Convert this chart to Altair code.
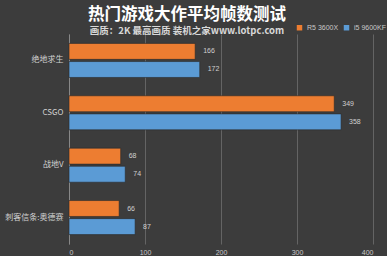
import altair as alt
import pandas as pd

games = ["绝地求生", "CSGO", "战地V", "刺客信条:奥德赛"]
cpus = ["R5 3600X", "i5 9600KF"]
r5_fps = [166, 349, 68, 66]
i5_fps = [172, 358, 74, 87]
colors = ["#ED7D31", "#5B9BD5"]
ticks = [0, 50, 100, 150, 200, 250, 300, 350, 400]

rows = []
for g, a, b in zip(games, r5_fps, i5_fps):
    rows.append({"game": g, "cpu": cpus[0], "fps": a})
    rows.append({"game": g, "cpu": cpus[1], "fps": b})
df = pd.DataFrame(rows)

font = "Noto Sans CJK SC"

base = alt.Chart(df).encode(
    y=alt.Y("game:N", sort=games, title=None,
            scale=alt.Scale(paddingInner=0.35, paddingOuter=0.18),
            axis=alt.Axis(labelColor="#d0d0d0", labelFontSize=8, labelFont=font,
                          ticks=False, domainColor="#888888", labelPadding=6)),
    yOffset=alt.YOffset("cpu:N", sort=cpus, scale=alt.Scale(paddingInner=0.12)),
)

bars = base.mark_bar(stroke="#2a2a2a", strokeWidth=0.6).encode(
    x=alt.X("fps:Q", title=None,
            scale=alt.Scale(domain=[0, 400], nice=False),
            axis=alt.Axis(values=ticks, labelOverlap=False,
                          labelColor="#c8c8c8", labelFontSize=7, domain=False,
                          ticks=False, gridColor="#646464", gridWidth=1,
                          labelPadding=4)),
    color=alt.Color("cpu:N", sort=cpus,
                    scale=alt.Scale(domain=cpus, range=colors),
                    legend=alt.Legend(title=None, orient="none", direction="horizontal",
                                      legendX=227, legendY=-10, symbolType="square",
                                      symbolSize=30, symbolStrokeWidth=0,
                                      labelColor="#c8c8c8", labelFontSize=7,
                                      columnPadding=4, symbolOffset=0)),
)

labels = base.mark_text(align="left", dx=8, fontSize=7, color="#d0d0d0").encode(
    x="fps:Q", text="fps:Q"
)

chart = (bars + labels).properties(
    width=304, height=210,
    background="#3c3c3c",
    padding={"left": 69, "top": 34, "right": 14, "bottom": 12},
    autosize=alt.AutoSizeParams(type="none"),
    title=alt.TitleParams(
        text="热门游戏大作平均帧数测试",
        subtitle="画质：2K 最高画质 装机之家www.lotpc.com",
        anchor="middle", frame="group", dx=-34, offset=-11,
        font=font, fontSize=16.5, fontWeight="bold", color="#ffffff",
        subtitleFont=font, subtitleFontSize=9.5, subtitleFontWeight="bold",
        subtitleColor="#d8d8d8", subtitlePadding=2,
    ),
).configure_view(stroke=None)

chart.save("out.html", embed_options={"renderer": "svg", "actions": False})
